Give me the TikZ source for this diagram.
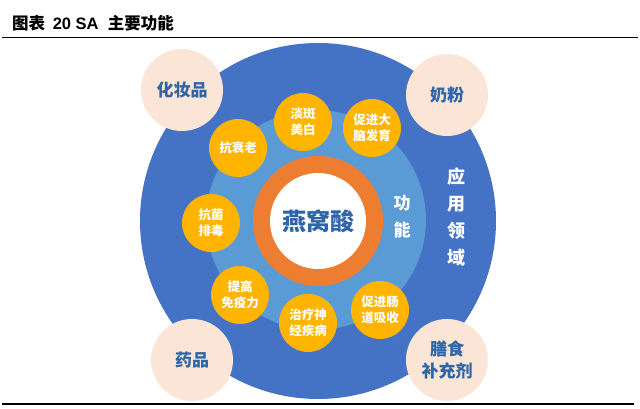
\documentclass[tikz,border=0pt]{standalone}
\usepackage{fontspec}
\setmainfont{Liberation Sans}
\newfontfamily\cjk{Noto Sans CJK SC}
\usetikzlibrary{positioning}

\definecolor{ringblue}{HTML}{4472C4}
\definecolor{innerblue}{HTML}{5B9BD5}
\definecolor{acidorange}{HTML}{ED7D31}
\definecolor{usegold}{HTML}{FFB400}
\definecolor{fieldpeach}{HTML}{FBE5D6}
\definecolor{textblue}{HTML}{2E64A8}

\begin{document}
\begin{tikzpicture}[x=1pt,y=1pt]

\tikzstyle{func}=[
    circle,
    fill=usegold,
    minimum size=58pt,
    inner sep=0pt,
    align=center,
    text=white,
    font=\cjk\bfseries\fontsize{12.5}{16}\selectfont
]
\tikzstyle{field}=[
    circle,
    fill=fieldpeach,
    minimum size=82pt,
    inner sep=0pt,
    align=center,
    text=textblue,
    font=\cjk\bfseries\fontsize{17}{22}\selectfont
]
\tikzstyle{vtext}=[
    align=center,
    text=white,
    font=\cjk\bfseries\fontsize{17}{27}\selectfont
]

\useasboundingbox (0,0) rectangle (640,409);

% title and rules
\node[anchor=west, inner sep=0pt] (title) at (12,386)
    {\cjk\bfseries\fontsize{16.5}{20}\selectfont 图表\ \ \fontspec{Liberation Sans}\bfseries 20 SA\ \ \cjk\bfseries 主要功能};
\coordinate (tl) at (2,371);
\coordinate (tr) at (638,371);
\draw[line width=1pt] (tl) -- (tr);
\coordinate (bl) at (2,5);
\coordinate (br) at (634,5);
\draw[line width=1.6pt] (bl) -- (br);

% rings
\coordinate (c) at (318,188);
\fill[ringblue] (c) circle (178);
\fill[innerblue] (316,189) circle (110);
\fill[acidorange] (c) circle (65);
\node[circle, fill=white, minimum size=96pt, inner sep=0pt,
      text=textblue, font=\cjk\bfseries\fontsize{24}{28}\selectfont] (acid) at (c) {燕窝酸};

% functions
\node[func] (f1) at (303,287) {淡斑\\美白};
\node[func] (f2) at (372,281) {促进大\\脑发育};
\node[func] (f3) at (238,261) {抗衰老};
\node[func] (f4) at (211,186) {抗菌\\排毒};
\node[func] (f5) at (240,114) {提高\\免疫力};
\node[func] (f6) at (308,86) {治疗神\\经疾病};
\node[func] (f7) at (380,99) {促进肠\\道吸收};

\node[vtext] (gn) at (402,192) {功\\能};
\node[vtext, font=\cjk\bfseries\fontsize{18}{27}\selectfont] (yy) at (456,192) {应\\用\\领\\域};

% application fields
\node[field] (a1) at (182,319) {化妆品};
\node[field] (a2) at (447,314) {奶粉};
\node[field] (a3) at (192,49) {药品};
\node[field] (a4) at (447,49) {膳食\\补充剂};

\end{tikzpicture}
\end{document}
